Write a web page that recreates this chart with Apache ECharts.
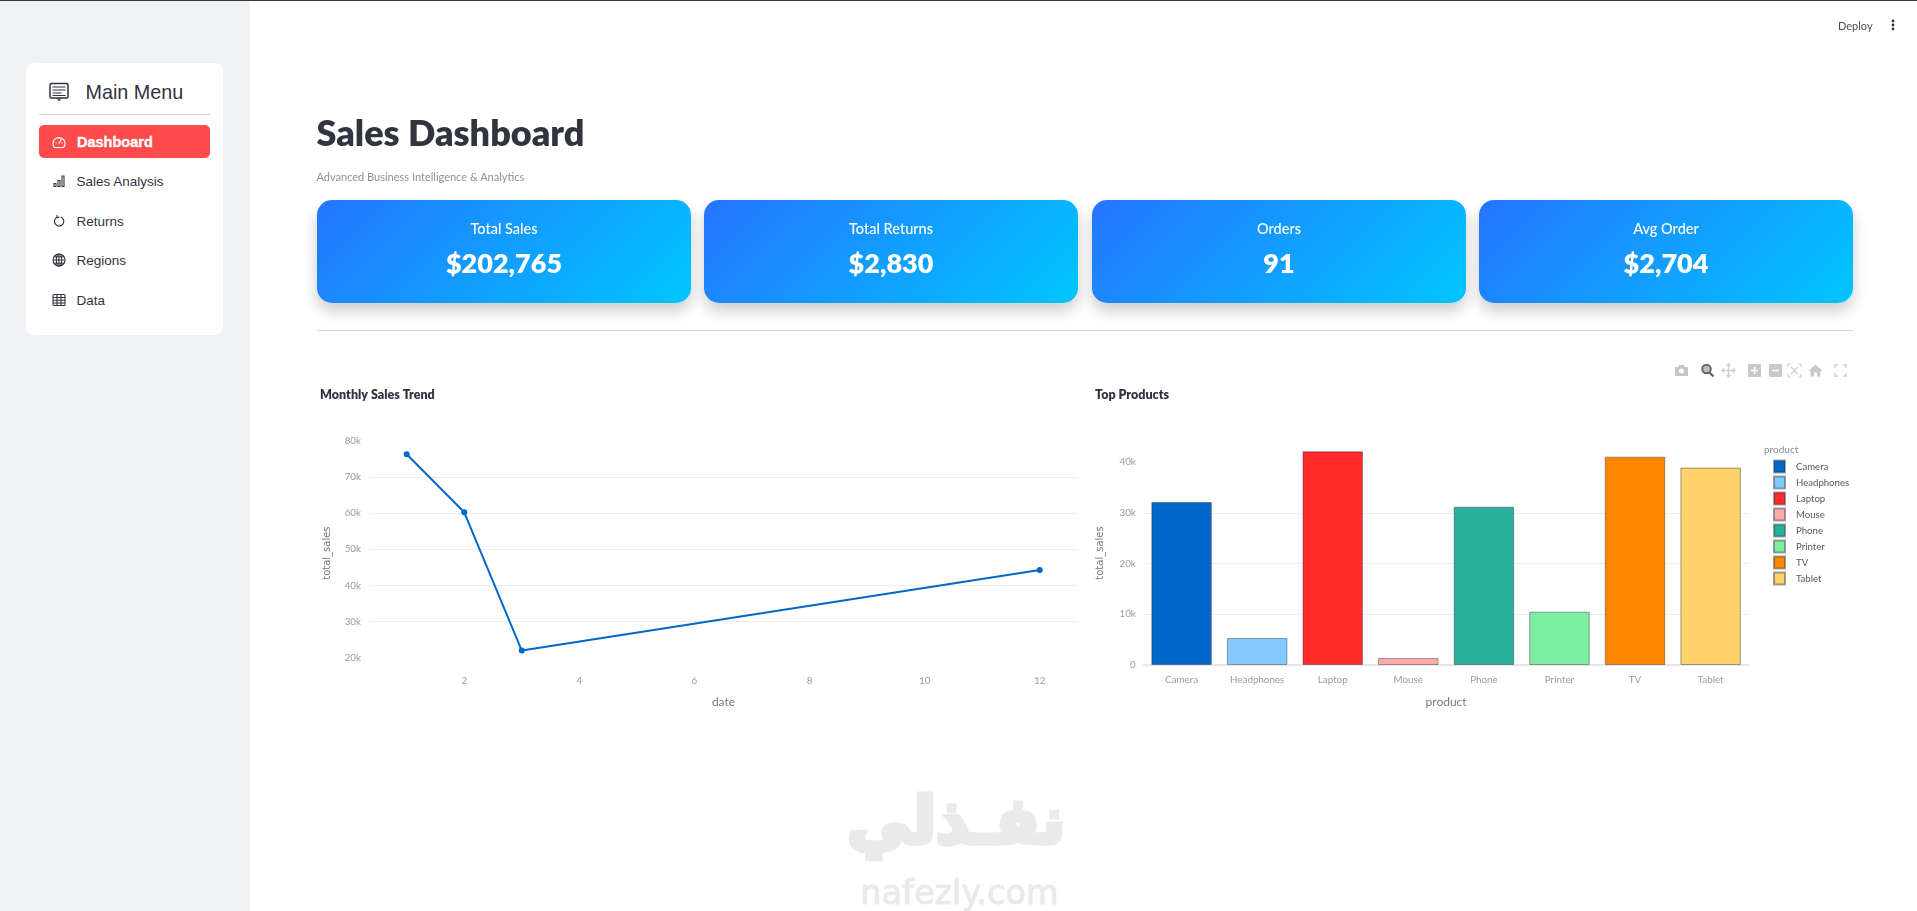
<!DOCTYPE html>
<html><head><meta charset="utf-8">
<script src="https://cdn.jsdelivr.net/npm/echarts@6/dist/echarts.min.js"></script>
<style>
html,body{margin:0;padding:0;width:1917px;height:911px;overflow:hidden;background:#fff;font-family:"Noto Sans",sans-serif;color:#31333F}
.abs{position:absolute;white-space:nowrap}
#top{left:0;top:0;width:1917px;height:1px;background:#3a3a3a;z-index:5}
#side{left:0;top:0;width:250px;height:911px;background:#F0F2F6}
#menu{left:26px;top:63px;width:197px;height:272px;background:#fff;border-radius:8px}
.item{font:13.5px "Liberation Sans",Arial,sans-serif;color:#31333F;transform:translateY(-50%)}
.ic{position:absolute;fill:none;stroke:#31333F;stroke-width:1.1}
#chart{left:0;top:0;width:1917px;height:911px}
.card{top:200px;width:374px;height:103px;border-radius:15px;background:linear-gradient(135deg,#2575FF,#00C6FF);box-shadow:0 8px 15px rgba(0,0,0,.2);color:#fff;text-align:center}
.card .l{position:absolute;left:0;right:0;top:18px;font:500 14.5px/22px Lato,"Noto Sans",sans-serif}
.card .v{position:absolute;left:0;right:0;top:43px;font:800 27px/40px Lato,"Noto Sans",sans-serif}
#mb svg{position:absolute;top:363px;width:15px;height:15px}
</style></head><body>
<div id="chart" class="abs"></div>
<div id="side" class="abs"></div>
<div id="top" class="abs"></div>
<div id="menu" class="abs"></div>
<div id="hrm" class="abs" style="left:39px;top:114px;width:171px;height:1px;background:#cfd0d3"></div>
<svg class="ic" style="left:49px;top:82px;width:20px;height:20px" viewBox="0 0 20 20"><rect x="1" y="1.5" width="18" height="14.5" rx="1.5" stroke-width="1.5"/><path d="M3.5 5h13M3.5 8h13M3.5 11h9M3.5 13.5h13M8 16l2 2.5 2-2.5" stroke-width="1.1"/></svg>
<div class="abs" style="left:85.5px;top:80px;font:19.8px/24px 'Liberation Sans',Arial,sans-serif;color:#31333F">Main Menu</div>
<div class="abs" style="left:39px;top:125px;width:171px;height:33px;background:#FF4B4B;border-radius:5px"></div>
<svg class="ic" style="left:52px;top:135px;width:14px;height:14px;stroke:#fff" viewBox="0 0 14 14"><path d="M2.5 12.5A6 6 0 1 1 11.5 12.5Z"/><path d="M7 8.5L9.5 4M3.5 8h1M9.5 8h1M7 3v1"/></svg>
<div class="abs item" style="left:77px;top:142px;font-size:14.5px;font-weight:700;color:#fff;-webkit-text-stroke:.35px #fff">Dashboard</div>
<svg class="ic" style="left:52px;top:174px;width:14px;height:14px" viewBox="0 0 14 14"><path d="M2 9.5h2v3H2zM6 6.5h2v6H6zM10 2h2v10.5h-2z"/></svg>
<div class="abs item" style="left:76.5px;top:181px">Sales Analysis</div>
<svg class="ic" style="left:52px;top:214px;width:14px;height:14px" viewBox="0 0 14 14"><path d="M8.8 3A4.7 4.7 0 1 1 5 3.2M5 1v2.4h2.4"/></svg>
<div class="abs item" style="left:76.5px;top:221px">Returns</div>
<svg class="ic" style="left:52px;top:253px;width:14px;height:14px" viewBox="0 0 14 14"><circle cx="7" cy="7" r="6"/><ellipse cx="7" cy="7" rx="2.7" ry="6"/><path d="M1 7h12M2 3.8h10M2 10.2h10M7 1v12"/></svg>
<div class="abs item" style="left:76.5px;top:260px">Regions</div>
<svg class="ic" style="left:52px;top:293px;width:14px;height:14px" viewBox="0 0 14 14"><rect x="1" y="1.500" width="12" height="11" rx="1"/><path d="M1 4.500h12M1 7.300h12M1 10h12M5 1.500v11M9 1.500v11"/></svg>
<div class="abs item" style="left:76.5px;top:300px">Data</div>

<div class="abs" style="left:1838px;top:17px;font:11px/18px Lato,'Noto Sans',sans-serif;color:#4a4c55">Deploy</div>
<svg class="abs" style="left:1889px;top:18px;width:8px;height:14px" viewBox="0 0 8 14"><circle cx="4" cy="3" r="1.4" fill="#31333F"/><circle cx="4" cy="7" r="1.4" fill="#31333F"/><circle cx="4" cy="11" r="1.4" fill="#31333F"/></svg>

<div class="abs" style="left:316.5px;top:107px;font:800 36px/50px Lato,'Noto Sans',sans-serif;color:#31333F">Sales Dashboard</div>
<div class="abs" style="left:316.5px;top:168px;font:11px/18px Lato,'Noto Sans',sans-serif;color:#8f9197">Advanced Business Intelligence &amp; Analytics</div>

<div class="abs card" style="left:317px"><div class="l" id="k0l"></div><div class="v" id="k0v"></div></div>
<div class="abs card" style="left:704px"><div class="l" id="k1l"></div><div class="v" id="k1v"></div></div>
<div class="abs card" style="left:1092px"><div class="l" id="k2l"></div><div class="v" id="k2v"></div></div>
<div class="abs card" style="left:1479px"><div class="l" id="k3l"></div><div class="v" id="k3v"></div></div>
<div class="abs" style="left:317px;top:330px;width:1536px;height:1px;background:#d6d7da"></div>

<div id="mb">
<svg style="left:1674px" viewBox="0 0 15 15" fill="#c6c6c6"><path d="M1 4h3l1-2h5l1 2h3v9H1z"/><circle cx="7.5" cy="8" r="2.5" fill="#fff"/></svg>
<svg style="left:1700px" viewBox="0 0 15 15"><circle cx="6.5" cy="6" r="4.3" fill="#bdbdbd" stroke="#666" stroke-width="2"/><path d="M9.5 9.500l4 4" stroke="#666" stroke-width="2.4"/></svg>
<svg style="left:1721px" viewBox="0 0 15 15" fill="none" stroke="#cfcfcf" stroke-width="1.4"><path d="M7.5 1v13M1 7.5h13M5.5 3l2-2 2 2M5.5 12l2 2 2-2M3 5.5l-2 2 2 2M12 5.5l2 2-2 2"/></svg>
<svg style="left:1747px" viewBox="0 0 15 15"><rect x="1" y="1" width="13" height="13" rx="1" fill="#c9c9c9"/><path d="M7.5 4v7M4 7.5h7" stroke="#fff" stroke-width="1.6"/></svg>
<svg style="left:1768px" viewBox="0 0 15 15"><rect x="1" y="1" width="13" height="13" rx="1" fill="#c9c9c9"/><path d="M4 7.5h7" stroke="#fff" stroke-width="1.6"/></svg>
<svg style="left:1787px" viewBox="0 0 15 15" fill="none" stroke="#cfcfcf" stroke-width="1.2"><path d="M1 4V1h3M11 1h3v3M14 11v3h-3M4 14H1v-3M4 4l7 7M11 4l-7 7"/></svg>
<svg style="left:1808px" viewBox="0 0 15 15" fill="#c9c9c9"><path d="M7.5 1.5L14.5 8h-2v5.5h-3.500V9.500H6v4H2.500V8h-2z"/></svg>
<svg style="left:1833px" viewBox="0 0 15 15" fill="none" stroke="#cfcfcf" stroke-width="1.4"><path d="M2 5V2h3M10 2h3v3M13 10v3h-3M5 13H2v-3"/></svg>
</div>

<div class="abs" dir="rtl" style="left:853px;top:782px;width:212px;text-align:center;font:900 64px/78px 'DejaVu Sans',sans-serif;color:#eaeaea;-webkit-text-stroke:5px #eaeaea">نفـذلي</div>
<div class="abs" style="left:858px;top:871px;width:203px;text-align:center;font:400 33.5px/44px 'DejaVu Sans',sans-serif;color:#eaeaea;-webkit-text-stroke:1px #eaeaea">nafezly.com</div>

<script>
const kpiLabels=["Total Sales","Total Returns","Orders","Avg Order"];
const kpiValues=["$202,765","$2,830","91","$2,704"];
const months=[1,2,3,12];
const monthlySales=[76240,60220,22020,44285];
const monthTicks=[2,4,6,8,10,12];
const salesTicks=[20000,30000,40000,50000,60000,70000,80000];
const products=["Camera","Headphones","Laptop","Mouse","Phone","Printer","TV","Tablet"];
const productSales=[32150,5320,42140,1380,31230,10520,41090,38935];
const productColors=["#0068C9","#83C9FF","#FF2B2B","#FFABAB","#29B09D","#7DEFA1","#FF8700","#FFD16A"];
const productTicks=[0,10000,20000,30000,40000];

kpiLabels.forEach((t,i)=>{document.getElementById('k'+i+'l').textContent=t;document.getElementById('k'+i+'v').textContent=kpiValues[i];});

const F='Lato,"Noto Sans",sans-serif', TICK='#9a9ca3', NAME='#777982', GRID='#eceef1';
const kfmt=v=>v===0?'0':(v/1000)+'k';
const labelStyle={color:TICK,fontSize:9.8,fontFamily:F};
const chart=echarts.init(document.getElementById('chart'),null,{renderer:'canvas'});
chart.setOption({
  animation:false,
  backgroundColor:'transparent',
  title:[
    {text:'Monthly Sales Trend',left:320,top:388.5,padding:0,textStyle:{fontSize:12.5,fontWeight:800,color:'#31333F',fontFamily:F}},
    {text:'Top Products',left:1095,top:388.5,padding:0,textStyle:{fontSize:12.5,fontWeight:800,color:'#31333F',fontFamily:F}},
    {text:'product',left:1764,top:445,padding:0,textStyle:{fontSize:10,fontWeight:400,color:'#8a8c94',fontFamily:F}}
  ],
  legend:{show:true,orient:'vertical',left:1773,top:459.5,padding:0,itemWidth:11,itemHeight:12,itemGap:2,icon:'rect',selectedMode:false,
    data:products,textStyle:{fontSize:9.6,lineHeight:12,color:'#555862',fontFamily:F,padding:[0,0,0,6]}},
  grid:[
    {left:369,top:440.7,width:709,height:224.8},
    {left:1143.8,top:441,width:604.6,height:224}
  ],
  xAxis:[
    {type:'value',gridIndex:0,min:0.345,max:12.665,name:'date',nameLocation:'middle',nameGap:31,nameTextStyle:{color:NAME,fontSize:12,fontFamily:F},
     axisLine:{show:false},axisTick:{show:false,customValues:monthTicks},splitLine:{show:false},axisLabel:{...labelStyle,margin:10,customValues:monthTicks}},
    {type:'category',gridIndex:1,data:products,name:'product',nameLocation:'middle',nameGap:31,nameTextStyle:{color:NAME,fontSize:12,fontFamily:F},
     axisLine:{show:true,lineStyle:{color:'#e6e7ea',width:2}},axisTick:{show:false},splitLine:{show:false},axisLabel:{...labelStyle,margin:10,interval:0}}
  ],
  yAxis:[
    {type:'value',gridIndex:0,min:17900,max:80000,name:'total_sales',nameLocation:'middle',nameGap:37,nameTextStyle:{color:NAME,fontSize:10,fontFamily:'"DejaVu Sans",sans-serif'},
     axisLine:{show:false},axisTick:{show:false,customValues:salesTicks},splitLine:{show:true,showMinLine:false,showMaxLine:false,lineStyle:{color:GRID}},axisLabel:{...labelStyle,margin:8,padding:[2,0,0,0],formatter:kfmt,customValues:salesTicks}},
    {type:'value',gridIndex:1,min:0,max:44180,name:'total_sales',nameLocation:'middle',nameGap:38,nameTextStyle:{color:NAME,fontSize:10,fontFamily:'"DejaVu Sans",sans-serif'},
     axisLine:{show:false},axisTick:{show:false,customValues:productTicks},splitLine:{show:true,showMinLine:false,showMaxLine:false,lineStyle:{color:GRID}},axisLabel:{...labelStyle,margin:8,padding:[2,0,0,0],formatter:kfmt,customValues:productTicks}}
  ],
  series:[
    {type:'line',name:'total_sales',xAxisIndex:0,yAxisIndex:0,data:months.map((m,i)=>[m,monthlySales[i]]),symbol:'circle',symbolSize:6,showSymbol:true,
     lineStyle:{color:'#0068C9',width:2},itemStyle:{color:'#0068C9'}},
    ...products.map((p,k)=>({type:'bar',name:p,xAxisIndex:1,yAxisIndex:1,stack:'p',barWidth:'80%',
      data:products.map((c,i)=>i===k?productSales[k]:null),
      itemStyle:{color:productColors[k],borderColor:'rgba(49,51,63,0.45)',borderWidth:1}}))
  ]
});
</script>
</body></html>
